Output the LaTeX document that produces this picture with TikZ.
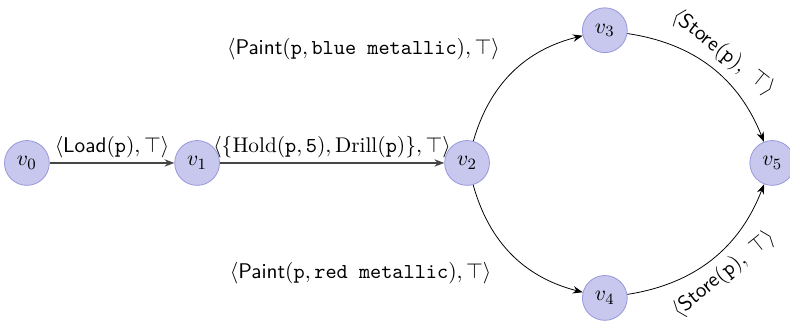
\documentclass[tikz,border=0pt]{standalone}
\usepackage{xcolor}
\usepackage{tikz}
\usepackage{amsmath}
\usetikzlibrary{arrows.meta, positioning, calc}
\definecolor{statefill}{RGB}{200,200,238}
\definecolor{statedraw}{RGB}{150,150,220}
\definecolor{edgegray}{RGB}{70,70,70}
\newcommand{\act}[1]{\textsf{#1}}
\newcommand{\obj}[1]{\texttt{#1}}
\tikzset{
  state/.style={circle, minimum size=0.8cm, inner sep=0pt, fill=statefill,
    draw=statedraw, font=\fontsize{11}{13}\selectfont},
  trans/.style={-{Stealth[length=5pt]}, draw=edgegray, thick},
  ctrans/.style={-{Stealth[length=5pt]}, draw=black},
  tlabel/.style={font=\fontsize{10.8}{13}\selectfont, text=black, inner sep=2pt},
}

\begin{document}
\begin{tikzpicture}
  \useasboundingbox (0,0) rectangle (14.107,5.75);
  % States
  \node[state] (v0) at (0.48,2.84) {$v_0$};
  \node[state] (v1) at (3.52,2.84) {$v_1$};
  \node[state] (v2) at (8.34,2.84) {$v_2$};
  \node[state] (v3) at (10.80,5.21) {$v_3$};
  \node[state] (v4) at (10.80,0.43) {$v_4$};
  \node[state] (v5) at (13.79,2.84) {$v_5$};
  % Straight transitions
  \draw[trans] (v0) -- node[tlabel, above] (l01)
    {$\langle\act{Load}(\obj{p}),\top\rangle$} (v1);
  \draw[trans] (v1) -- node[tlabel, above] (l12)
    {$\langle\{\textrm{Hold}(\obj{p},\obj{5}),\textrm{Drill}(\obj{p})\},\top\rangle$} (v2);
  % Branches
  \draw[ctrans] (v2) to[bend left=30] (v3);
  \draw[ctrans] (v2) to[bend right=30] (v4);
  \node[tlabel] (l23) at (6.49,4.87)
    {$\langle\act{Paint}(\obj{p},\obj{blue metallic}),\top\rangle$};
  \node[tlabel] (l24) at (6.44,0.87)
    {$\langle\act{Paint}(\obj{p},\obj{red metallic}),\top\rangle$};
  \draw[ctrans] (v3) to[bend left=30] node[tlabel, sloped, above=2pt, pos=0.5] (l35)
    {$\langle\act{Store}(\obj{p}),\ \top\rangle$} (v5);
  \draw[ctrans] (v4) to[bend right=30] node[tlabel, sloped, below=2pt, pos=0.5] (l45)
    {$\langle\act{Store}(\obj{p}),\ \top\rangle$} (v5);
\end{tikzpicture}
\end{document}
